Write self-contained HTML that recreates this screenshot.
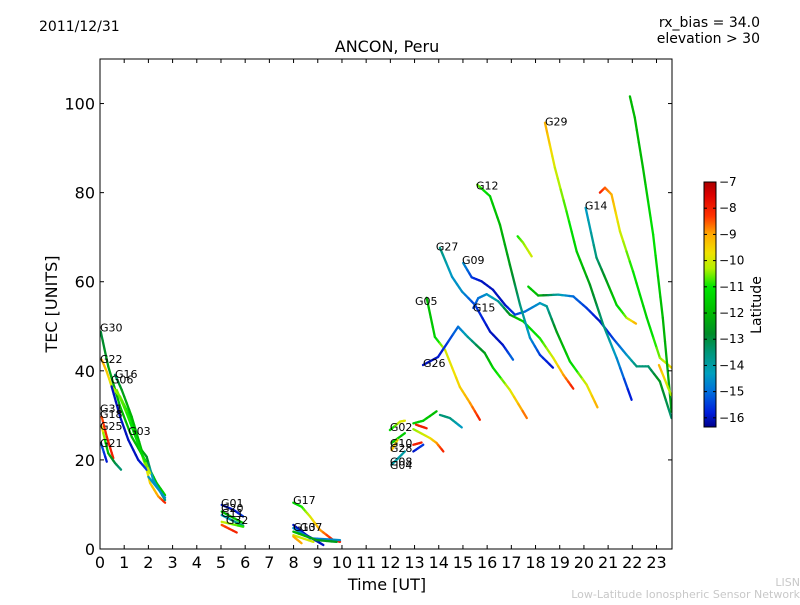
<!DOCTYPE html>
<html><head><meta charset="utf-8"><style>
body{margin:0;background:#fff;width:800px;height:600px;overflow:hidden}
svg text{font-family:"DejaVu Sans","Liberation Sans",sans-serif}
</style></head><body>
<svg id="chart" width="800" height="600" xmlns="http://www.w3.org/2000/svg">
<text x="39" y="31" font-size="14">2011/12/31</text>
<text x="760" y="27" font-size="14" text-anchor="end">rx_bias = 34.0</text>
<text x="760" y="43" font-size="14" text-anchor="end">elevation &gt; 30</text>
<text x="387" y="52" font-size="16" text-anchor="middle">ANCON, Peru</text>
<text x="387" y="590" font-size="16" text-anchor="middle">Time [UT]</text>
<text x="57" y="304" font-size="16" text-anchor="middle" transform="rotate(-90 57 304)">TEC [UNITS]</text>
<text x="800" y="586" font-size="11" fill="#c8c8c8" text-anchor="end">LISN</text>
<text x="800" y="598" font-size="11" fill="#c8c8c8" text-anchor="end">Low-Latitude Ionospheric Sensor Network</text>
<g id="marks"></g>
<g id="axes"></g>
<text x="761" y="305" font-size="14" text-anchor="middle" transform="rotate(-90 761 305)">Latitude</text>
</svg>
<script>
const xTicks=[0,1,2,3,4,5,6,7,8,9,10,11,12,13,14,15,16,17,18,19,20,21,22,23];
const yTicks=[0,20,40,60,80,100];
const cbTicks=[-7,-8,-9,-10,-11,-12,-13,-14,-15,-16];
const trackTimes=[
[0.03,0.34,0.83,1.31,1.86,2.34,2.69],
[0.07,0.28,0.48,0.83,1.17,1.58,1.93,2.07,2.41,2.69],
[0.62,0.9,1.31,1.72,1.93,2.2,2.69],
[0.48,0.83,1.17,1.58,1.93],
[2.0,2.69],
[0.69,1.1,1.72,2.07],
[0.07,0.28,0.55],
[0.07,0.34,0.62,0.87],
[0.04,0.28],
[5.03,5.51,5.92],[5.03,5.92],[5.03,5.92],[5.03,5.92],[5.03,5.65],
[7.99,8.33,8.68,9.09,9.64,9.92],
[7.99,8.54,9.23],[7.99,8.68,9.92],[7.99,8.95,9.78],[7.99,8.82],[7.99,8.33],
[11.98,12.4,12.6],[12.95,13.36,13.91],[14.05,14.46,14.95],[13.06,13.5],
[12.95,13.64,13.91,14.19],[12.95,13.29],[12.95,13.36],[12.05,12.6],[12.05,12.3],[12.05,12.6],
[13.5,13.84,14.26,14.87,15.29,15.7],
[13.35,13.97,14.8,15.2,15.9,16.24,16.94,17.64],
[14.05,14.55,14.96,15.5,16.12,16.65,17.07],
[15.43,15.63,15.98,16.46,16.94,17.49,18.18,18.73,19.15,19.56],
[15.01,15.36,15.77,16.24,16.74,17.15,17.56,18.18,18.46,18.87,19.42,20.11,20.56],
[15.59,16.12,16.53,16.94,17.36,17.77,18.18,18.72],
[17.26,17.48,17.84],
[17.7,18.11,18.94,19.56,20.11,20.66,21.2,21.76,22.18,22.66,23.14,23.62],
[18.39,18.8,19.28,19.7,20.25,20.8,21.35,21.97],
[20.66,20.87,21.14,21.49,22.03,22.6,23.14,23.62],
[20.07,20.52,20.94,21.35,21.76,22.15],
[21.9,22.1,22.44,22.86,23.26,23.62],
[23.1,23.6]
];
const trackTec=[
[48.8,41,32,25.2,20,14.8,12.1],
[42.5,39.8,36.5,34.2,30.5,23.8,17.8,14.8,11.8,10.4],
[39.1,35.7,29.7,22.2,20.7,15.5,11],
[36.5,29.7,24.5,20,17.8],
[16.2,11.5],
[35.7,30.5,21.5,17],
[29.7,25.2,20.4],
[27.5,21.5,19.3,17.8],
[23.8,19.6],
[9.9,8.8,7.3],[8.4,5.8],[7.6,5.2],[6.1,5],[5.4,3.7],
[10.4,9.5,7.3,4.3,2,1.6],
[5.4,3.1,0.9],[4.7,2.4,2],[3.9,2,1.6],[3.1,1.6],[2.8,1.3],
[26.7,28.6,28.8],[28.2,28.8,30.9],[30.1,29.4,27.3],[27.9,27.1],
[26.9,24.9,23.8,21.9],[23.4,23.9],[21.9,23.4],[23.8,26],[22.2,24.5],[18.9,21.9],
[56.4,47.6,44.7,36.4,32.8,29],
[41.3,43.1,49.9,47.6,44,40.7,35.7,29.4],
[67.6,61.1,57.8,54.8,48.8,45.8,42.5],
[54.1,56.3,57.2,55.6,52.6,51.1,47.3,42.9,39.1,36],
[64.2,61,60.1,58.2,54.8,52.6,53.3,55.2,54.5,48.8,42.1,36.9,31.8],
[81.8,79.2,72.8,63.8,54.8,47.4,43.6,40.7],
[70.2,68.8,65.7],
[58.9,56.9,57.1,56.7,54.1,51.1,47.3,43.6,41,41,37.6,29.4],
[95.7,85.6,75.8,66.8,59.3,50.3,42.9,33.5],
[80,81.1,79.6,71.3,62.3,51.9,42.9,40.7],
[76.6,65.4,60.1,54.8,51.9,50.6],
[101.6,96.9,85.6,70.6,51.9,30.8],
[41.3,34.6]
];
const trackLat=[
[-13,-12.5,-12,-12,-12,-11.8,-11.5],
[-9,-9.3,-10,-10.5,-11,-11.5,-10,-9.5,-9,-8],
[-13.5,-12.5,-12,-12,-12.5,-14.5,-13.5],
[-16,-16,-16,-16,-15.5],
[-14.5,-14.5],
[-10.5,-10.8,-11.5,-10],
[-8.5,-8,-8],
[-9.5,-12,-13,-13.5],
[-15,-16],
[-16,-16,-15.5],[-12,-11.5],[-14.5,-13.5],[-10,-11],[-8.5,-8],
[-11.5,-11,-10,-9,-8,-8],
[-16,-16,-16],[-14.5,-15,-14.5],[-12,-12.5,-12.5],[-10,-10],[-9,-9],
[-11.5,-10,-9.8],[-11.5,-11.5,-12],[-13.5,-13.5,-14.5],[-8,-8],
[-10.5,-9.8,-9,-8],[-8,-8],[-16,-15.5],[-12,-11.5],[-9,-9.8],[-14,-14],
[-12,-11.5,-10,-9.5,-9,-8],
[-16,-16,-15,-14,-12.5,-11.5,-10,-8.5],
[-13.5,-14.5,-14.5,-15.5,-16,-16,-15],
[-15.5,-15,-14.5,-14,-12.5,-11.5,-11,-10,-9,-8],
[-14.5,-15.5,-16,-16,-16,-15.5,-15,-14.5,-14,-12.5,-11.5,-10,-9],
[-10.5,-11.5,-12,-12.5,-13.5,-14.5,-15.5,-16],
[-11,-10.5,-10],
[-11.5,-12,-14,-15,-15.5,-16,-15.5,-14.5,-13.5,-13.5,-12.5,-13.5],
[-9,-10,-10.8,-11.5,-12.5,-13.5,-14.5,-16],
[-8,-8.5,-9,-10,-11,-11.5,-10.5,-9.5],
[-14.5,-13.5,-12.5,-11.5,-10.5,-9],
[-12,-12,-12,-11,-12,-12.5],
[-9,-10.5]
];
const labelNames=["G30","G22","G16","G06","G31","G18","G25","G03","G21","G01","G20","G11","G32","G17","G13","G07","G02","G10","G28","G08","G04","G26","G05","G27","G09","G15","G12","G29","G14"];
const labelTimes=[0,0,0.62,0.45,0,0,0,1.16,0,5.0,5.0,5.0,5.2,7.98,7.98,8.26,11.98,11.98,11.98,11.98,11.98,13.35,13.02,13.88,14.96,15.41,15.54,18.39,20.04];
const labelTec=[48.8,41.8,38.4,37.1,30.6,29.4,26.7,25.6,22.9,9.4,8.3,7.2,5.6,10.1,4.0,4.0,26.5,22.9,21.8,18.7,18.0,40.9,54.8,67,64,53.3,80.7,95.1,76.2];

const NS="http://www.w3.org/2000/svg";
const PL=100,PR=672,PT=59,PB=549,XMAX=23.64,YMAX=110;
const xs=t=>PL+t/XMAX*(PR-PL);
const ys=v=>PB-v/YMAX*(PB-PT);
const VMIN=-16.35,VMAX=-7;
const CMV=[-16.35,-15.8,-15,-14.3,-13.5,-12.8,-12,-11,-10.3,-9.7,-9,-8.3,-7.5,-7];
const CMC=[[0,0,140],[0,30,220],[0,110,220],[0,160,190],[0,150,120],[0,140,40],[0,185,0],[0,230,0],[180,240,0],[240,225,0],[255,170,0],[255,50,0],[220,0,0],[170,0,0]];
function latColor(l){
 if(l<=CMV[0])return `rgb(${CMC[0]})`;
 for(let i=0;i<CMV.length-1;i++){
  if(l<=CMV[i+1]){const f=(l-CMV[i])/(CMV[i+1]-CMV[i]);
   const c=CMC[i].map((v,k)=>Math.round(v+(CMC[i+1][k]-v)*f));return `rgb(${c})`;}
 }
 return `rgb(${CMC[CMC.length-1]})`;
}
function mk(tag,attrs,parent){const e=document.createElementNS(NS,tag);for(const k in attrs)e.setAttribute(k,attrs[k]);parent.appendChild(e);return e;}
const svg=document.getElementById('chart');
const marks=document.getElementById('marks');
const axes=document.getElementById('axes');
const defs=mk('defs',{},svg);
const clip=mk('clipPath',{id:'pc'},defs);
mk('rect',{x:PL,y:PT,width:PR-PL,height:PB-PT},clip);
marks.setAttribute('clip-path','url(#pc)');
trackTimes.forEach((ts,i)=>{
 const g=document.createElementNS(NS,'g');
 
 
 marks.appendChild(g);
 const tec=trackTec[i],lat=trackLat[i];
 for(let j=0;j<ts.length-1;j++){
  const N=4;
  for(let k=0;k<N;k++){
   const a=k/N,b=(k+1)/N;
   const ln=document.createElementNS(NS,'line');
   
   
   ln.setAttribute('x1',xs(ts[j]+(ts[j+1]-ts[j])*a));ln.setAttribute('y1',ys(tec[j]+(tec[j+1]-tec[j])*a));
   ln.setAttribute('x2',xs(ts[j]+(ts[j+1]-ts[j])*b));ln.setAttribute('y2',ys(tec[j]+(tec[j+1]-tec[j])*b));
   ln.setAttribute('stroke',latColor(lat[j]+(lat[j+1]-lat[j])*(a+b)/2));
   ln.setAttribute('stroke-width','2.3');ln.setAttribute('stroke-linecap','round');
   g.appendChild(ln);
  }
 }
});
labelNames.forEach((n,i)=>{
 const t=document.createElementNS(NS,'text');
 
 
 t.setAttribute('x',xs(labelTimes[i]));t.setAttribute('y',ys(labelTec[i]));
 t.setAttribute('font-size','11');t.textContent=n;svg.appendChild(t);
});
const frame=mk('rect',{x:PL,y:PT,width:PR-PL,height:PB-PT,fill:'none',stroke:'#000','stroke-width':1},axes);


xTicks.forEach(v=>{
 const x=xs(v);
 mk('line',{x1:x,y1:PB,x2:x,y2:PB-4,stroke:'#000'},axes);
 mk('line',{x1:x,y1:PT,x2:x,y2:PT+4,stroke:'#000'},axes);
 const t=document.createElementNS(NS,'text');
 
 
 t.setAttribute('x',x);t.setAttribute('y',PB+19);t.setAttribute('font-size','16');t.setAttribute('text-anchor','middle');
 t.textContent=v;axes.appendChild(t);
});
yTicks.forEach(v=>{
 const y=ys(v);
 mk('line',{x1:PL,y1:y,x2:PL+4,y2:y,stroke:'#000'},axes);
 mk('line',{x1:PR,y1:y,x2:PR-4,y2:y,stroke:'#000'},axes);
 const t=document.createElementNS(NS,'text');
 
 
 t.setAttribute('x',PL-5);t.setAttribute('y',y+6);t.setAttribute('font-size','16');t.setAttribute('text-anchor','end');
 t.textContent=v;axes.appendChild(t);
});
const CX=704,CW=12,CT=182,CB=427;
const cy=v=>CB-(v-VMIN)/(VMAX-VMIN)*(CB-CT);
const grad=mk('linearGradient',{id:'cmg',x1:0,y1:1,x2:0,y2:0},defs);
CMV.forEach((v,i)=>mk('stop',{offset:(v-VMIN)/(VMAX-VMIN),'stop-color':`rgb(${CMC[i]})`},grad));
const cb=mk('rect',{x:CX,y:CT,width:CW,height:CB-CT,fill:'url(#cmg)',stroke:'#000','stroke-width':1},svg);


cbTicks.forEach(v=>{
 const y=cy(v);
 mk('line',{x1:CX+CW-3,y1:y,x2:CX+CW,y2:y,stroke:'#000'},svg);
 mk('line',{x1:CX,y1:y,x2:CX+3,y2:y,stroke:'#000'},svg);
 const t=document.createElementNS(NS,'text');
 
 
 t.setAttribute('x',CX+CW+3);t.setAttribute('y',y+4);t.setAttribute('font-size','12');
 t.textContent='\u2212'+Math.abs(v);svg.appendChild(t);
});
</script>
</body></html>
